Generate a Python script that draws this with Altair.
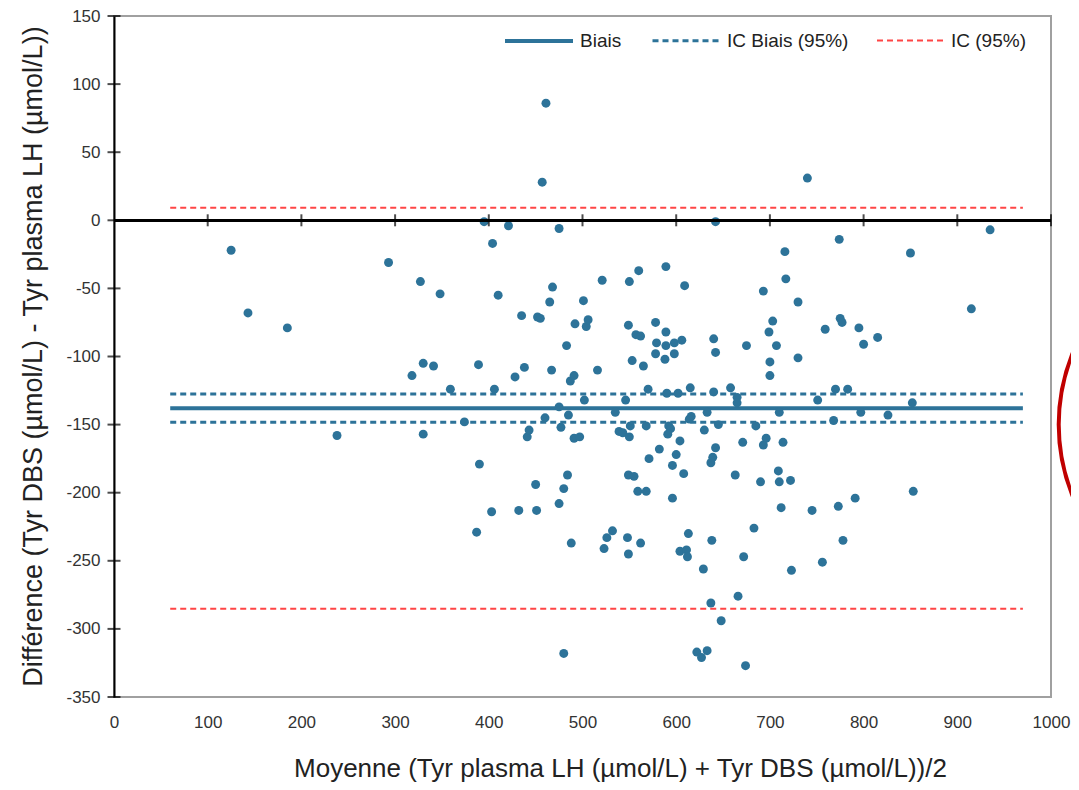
import altair as alt
import pandas as pd

# Points: mean (x) and difference (y)
means = [125,143,185,238,293,318,327,330,330,341,348,359,374,387,389,390,395,403,404,406,
         410,421,428,432,435,438,441,443,450,451,452,455,457,460,461,465,467,468,475,475,
         475,477,480,480,483,484,485,487,488,491,491,492,497,501,502,504,506,516,521,523,
         526,532,535,539,543,546,548,549,549,549,550,550,551,553,555,557,559,560,562,562,
         565,568,568,570,571,578,578,579,582,588,589,589,589,590,592,594,591,596,596,598,
         598,600,602,604,604,606,608,609,611,612,613,615,616,614,622,627,629,630,633,633,
         637,637,639,638,640,640,642,642,642,645,648,658,663,665,665,666,671,672,674,675,
         683,685,690,693,693,696,699,700,700,703,707,709,710,710,712,714,716,717,722,723,
         730,730,740,745,751,756,759,768,770,773,774,775,777,778,783,791,795,797,800,815,
         826,850,852,853,915,935]
diffs = [-22,-68,-79,-158,-31,-114,-45,-105,-157,-107,-54,-124,-148,-229,-106,-179,-1,-214,-17,-124,
         -55,-4,-115,-213,-70,-108,-159,-154,-194,-213,-71,-72,28,-145,86,-60,-110,-49,-6,-137,
         -208,-152,-197,-318,-92,-187,-143,-118,-237,-114,-160,-76,-159,-59,-132,-78,-73,-110,-44,-241,
         -233,-228,-141,-155,-156,-132,-233,-77,-187,-245,-45,-159,-151,-103,-188,-84,-199,-37,-85,-237,
         -107,-151,-199,-124,-175,-75,-98,-90,-168,-102,-34,-82,-92,-127,-151,-153,-157,-180,-204,-90,
         -98,-172,-127,-162,-243,-88,-186,-48,-242,-247,-230,-123,-144,-146,-317,-321,-256,-154,-141,-316,
         -281,-178,-174,-235,-126,-87,-1,-97,-167,-150,-294,-123,-187,-130,-134,-276,-163,-247,-327,-92,
         -226,-151,-192,-52,-165,-160,-82,-104,-114,-74,-92,-184,-141,-192,-211,-163,-23,-43,-191,-257,
         -60,-101,31,-213,-132,-251,-80,-147,-124,-210,-14,-72,-75,-235,-124,-204,-79,-141,-91,-86,
         -143,-24,-134,-199,-65,-7]

# Reference lines
line_series = ["Biais", "IC Biais (95%)", "IC Biais (95%)", "IC (95%)", "IC (95%)"]
line_values = [-138, -127.5, -148.3, 9.3, -285.2]
line_start = 60
line_end = 970

x_ticks = [100, 200, 300, 400, 500, 600, 700, 800, 900, 1000]
y_ticks = [-350, -300, -250, -200, -150, -100, -50, 0, 50, 100, 150]

BLUE = "#2d7399"
RED = "#ff4545"
FONT = "Liberation Sans"

pts = pd.DataFrame({"moy": means, "diff": diffs})
lines = pd.DataFrame({"serie": line_series, "y": line_values,
                      "x1": [line_start] * 5, "x2": [line_end] * 5})

xscale = alt.Scale(domain=[0, 1000], nice=False, zero=False)
yscale = alt.Scale(domain=[-350, 150], nice=False, zero=False)

x_title = "Moyenne (Tyr plasma LH (µmol/L) + Tyr DBS (µmol/L))/2"
y_title = "Différence (Tyr DBS (µmol/L) - Tyr plasma LH (µmol/L))"

base_x = alt.X("moy:Q", scale=xscale, title=x_title,
               axis=alt.Axis(values=[0] + x_ticks, ticks=False, domain=False, grid=False,
                             labelExpr="'' + datum.value", labelFlush=False,
                             labelPadding=17, labelFontSize=17, labelColor="#333333",
                             labelFont=FONT, titleFont=FONT, titleFontSize=26,
                             titleFontWeight="normal", titleColor="#222222",
                             titleX=506, titleY=71, titleBaseline="middle"))
base_y = alt.Y("diff:Q", scale=yscale, title=y_title,
               axis=alt.Axis(values=y_ticks, ticks=False, domain=True, domainColor="black",
                             domainWidth=2, grid=False, labelPadding=14, labelFontSize=17,
                             labelExpr="'' + datum.value",
                             labelColor="#333333", labelFont=FONT, titleFont=FONT,
                             titleFontSize=27, titleFontWeight="normal", titleColor="#222222",
                             titleX=-81, titleY=340, titleAngle=-90, titleBaseline="middle"))

points = alt.Chart(pts).mark_circle(size=80, color=BLUE, opacity=1).encode(x=base_x, y=base_y)

zero_line = alt.Chart(pts).mark_rule(color="black", strokeWidth=2).encode(y=alt.datum(0))

xt = alt.Chart(pd.DataFrame({"t": x_ticks})).mark_tick(
    orient="vertical", color="black", thickness=2, size=12).encode(
    x=alt.X("t:Q", scale=xscale), y=alt.datum(0))
yt = alt.Chart(pd.DataFrame({"t": y_ticks})).mark_tick(
    orient="horizontal", color="black", thickness=2, size=13, clip=False).encode(
    y=alt.Y("t:Q", scale=yscale), x=alt.datum(0))

order = ["Biais", "IC Biais (95%)", "IC (95%)"]
ref = alt.Chart(lines).mark_rule().encode(
    x=alt.X("x1:Q", scale=xscale), x2="x2:Q", y=alt.Y("y:Q", scale=yscale),
    color=alt.Color("serie:N", scale=alt.Scale(domain=order, range=[BLUE, BLUE, RED]),
                    legend=alt.Legend(title=None, orient="none", direction="horizontal",
                                      legendX=389, legendY=-11, symbolType="stroke",
                                      symbolSize=4624, labelFont=FONT, labelFontSize=19,
                                      labelColor="#222222", columnPadding=24, labelOffset=5)),
    strokeDash=alt.StrokeDash("serie:N", scale=alt.Scale(domain=order, range=[[1, 0], [6, 4], [6, 4]]),
                              legend=alt.Legend(title=None)),
    strokeWidth=alt.StrokeWidth("serie:N", scale=alt.Scale(domain=order, range=[4, 2, 2]),
                                legend=alt.Legend(title=None)),
)

circle = alt.Chart(pd.DataFrame({"cx": [1211], "cy": [-150]})).mark_point(
    shape="circle", filled=False, stroke="#c00000", strokeWidth=4, size=144400, clip=False,
    opacity=1).encode(x=alt.X("cx:Q", scale=xscale), y=alt.Y("cy:Q", scale=yscale))

chart = alt.layer(ref, points, zero_line, xt, yt, circle).properties(
    width=937, height=681,
    autosize=alt.AutoSizeParams(type="none"),
    padding={"left": 106, "top": 8, "right": 20, "bottom": 85},
).configure_view(stroke="#a0a0a0", strokeWidth=2)

chart.save("out.html", embed_options={"renderer": "svg", "actions": False})
